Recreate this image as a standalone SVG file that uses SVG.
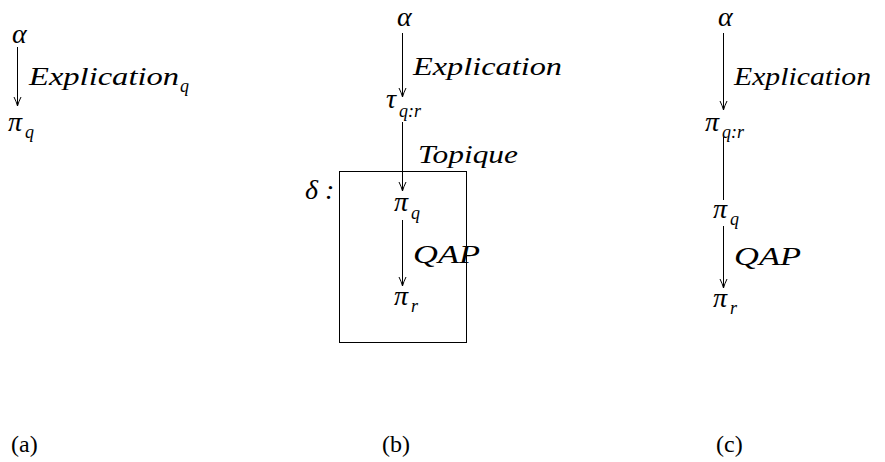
<svg xmlns="http://www.w3.org/2000/svg" width="885" height="462" viewBox="0 0 885 462">
<style>
text{font-family:'Liberation Serif','Times New Roman',Tinos,'Noto Serif','DejaVu Serif',serif;fill:#000}
.m{font-style:italic;font-size:26px}
.g{font-style:italic;font-size:28px}
.s{font-style:italic;font-size:18px}
.u{font-size:24px}
.e{stroke:#000;stroke-width:1;fill:none}
</style>
<defs>
<marker id="ah" markerWidth="12" markerHeight="10" refX="10" refY="5" orient="auto" markerUnits="userSpaceOnUse" viewBox="0 0 12 10">
<path d="M1,1.5 Q6,4 10,5 Q6,6 1,8.5" fill="none" stroke="#000" stroke-width="1"/>
</marker>
</defs>
<rect width="885" height="462" fill="#fff"/>
<g id="connectors">
<line class="e" x1="17.5" y1="47" x2="17.5" y2="106" marker-end="url(#ah)"/>
<line class="e" x1="402.5" y1="33" x2="402.5" y2="97" marker-end="url(#ah)"/>
<line class="e" x1="402.5" y1="122" x2="402.5" y2="191" marker-end="url(#ah)"/>
<line class="e" x1="402.5" y1="220" x2="402.5" y2="286" marker-end="url(#ah)"/>
<line class="e" x1="723.5" y1="33" x2="723.5" y2="110" marker-end="url(#ah)"/>
<line class="e" x1="723.5" y1="137" x2="723.5" y2="200"/>
<line class="e" x1="723.5" y1="226" x2="723.5" y2="288" marker-end="url(#ah)"/>
</g>
<g id="a">
<text class="g" x="12" y="43">α</text>
<text class="m" x="29" y="85" textLength="150" lengthAdjust="spacingAndGlyphs">Explication</text>
<text class="s" x="180" y="92">q</text>
<text class="g" x="8" y="131">π</text>
<text class="s" x="25" y="138">q</text>
<text class="u" x="11" y="452">(a)</text>
</g>
<g id="b">
<text class="g" x="397" y="26">α</text>
<text class="m" x="413" y="75" textLength="149" lengthAdjust="spacingAndGlyphs">Explication</text>
<text class="g" x="386" y="108">τ</text>
<text class="s" x="399" y="117">q:r</text>
<text class="m" x="418" y="163" textLength="100" lengthAdjust="spacingAndGlyphs">Topique</text>
<rect class="e" x="339.5" y="171.5" width="127" height="171"/>
<text class="g" x="305" y="199">δ :</text>
<text class="g" x="394" y="211">π</text>
<text class="s" x="411" y="219">q</text>
<text class="m" x="413" y="263" textLength="67" lengthAdjust="spacingAndGlyphs">QAP</text>
<text class="g" x="394" y="305">π</text>
<text class="s" x="411" y="312">r</text>
<text class="u" x="382" y="452">(b)</text>
</g>
<g id="c">
<text class="g" x="718" y="26">α</text>
<text class="m" x="734" y="85" textLength="137" lengthAdjust="spacingAndGlyphs">Explication</text>
<text class="g" x="705" y="131">π</text>
<text class="s" x="722" y="138">q:r</text>
<text class="g" x="713" y="218">π</text>
<text class="s" x="730" y="225">q</text>
<text class="m" x="734" y="265" textLength="67" lengthAdjust="spacingAndGlyphs">QAP</text>
<text class="g" x="713" y="307">π</text>
<text class="s" x="730" y="314">r</text>
<text class="u" x="716" y="452">(c)</text>
</g>
</svg>
